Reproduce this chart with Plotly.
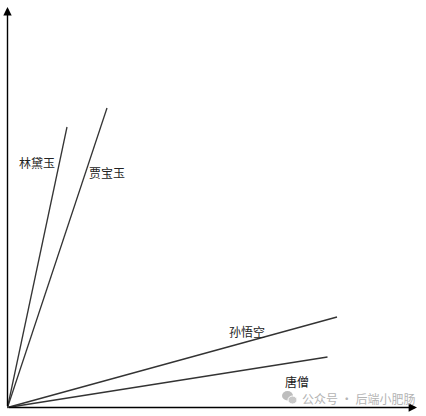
import plotly.graph_objects as go

# line end points, measured from the origin of the two arrows (screen-like units)
names = ["林黛玉", "贾宝玉", "孙悟空", "唐僧"]
end_x = [59.5, 99.5, 329.5, 320.0]
end_y = [280.5, 299.5, 90.5, 50.5]

# where each name sits
label_x = [29.5, 99.5, 239.5, 289.5]
label_y = [245.5, 235.5, 76.5, 26.5]

axis_x_len = 409.5
axis_y_len = 400.5
watermark = "公众号 · 后端小肥肠"

FONT = "Noto Sans CJK SC"

fig = go.Figure()

for n, ex, ey in zip(names, end_x, end_y):
    fig.add_trace(go.Scatter(
        x=[0, ex], y=[0, ey], mode="lines", name=n,
        line=dict(color="#333333", width=1.3),
        hoverinfo="skip",
    ))

# the two axes, drawn as arrows
fig.add_annotation(x=axis_x_len, y=0, ax=0, ay=0, xref="x", yref="y",
                   axref="x", ayref="y", text="", showarrow=True,
                   arrowhead=2, arrowsize=1.2, arrowwidth=1.4, arrowcolor="black")
fig.add_annotation(x=0, y=axis_y_len, ax=0, ay=0, xref="x", yref="y",
                   axref="x", ayref="y", text="", showarrow=True,
                   arrowhead=2, arrowsize=1.2, arrowwidth=1.4, arrowcolor="black")

for n, lx, ly in zip(names, label_x, label_y):
    fig.add_annotation(x=lx, y=ly, text=n, showarrow=False,
                       font=dict(family=FONT, size=12, color="#222222"))

# watermark with a little chat-bubble icon
fig.add_annotation(x=292.5, y=9.5, text=watermark, showarrow=False,
                   xanchor="left", font=dict(family=FONT, size=12, color="#b4b4b4"))
fig.add_shape(type="circle", x0=274.5, x1=285.5, y0=7, y1=16.5,
              fillcolor="#bdbdbd", line_width=0)
fig.add_shape(type="circle", x0=280.5, x1=289.5, y0=3.5, y1=11.5,
              fillcolor="#c8c8c8", line=dict(color="white", width=1))

fig.update_layout(
    width=426, height=416,
    margin=dict(l=0, r=0, t=0, b=0),
    paper_bgcolor="white", plot_bgcolor="white",
    showlegend=False,
    xaxis=dict(range=[-7.5, 418.5], visible=False),
    yaxis=dict(range=[-8.5, 407.5], visible=False),
)

# page body has a default 8px margin, drop it so the figure fills the window
fig.write_html("out.html", config={"displayModeBar": False},
               post_script="document.body.style.margin='0';")
